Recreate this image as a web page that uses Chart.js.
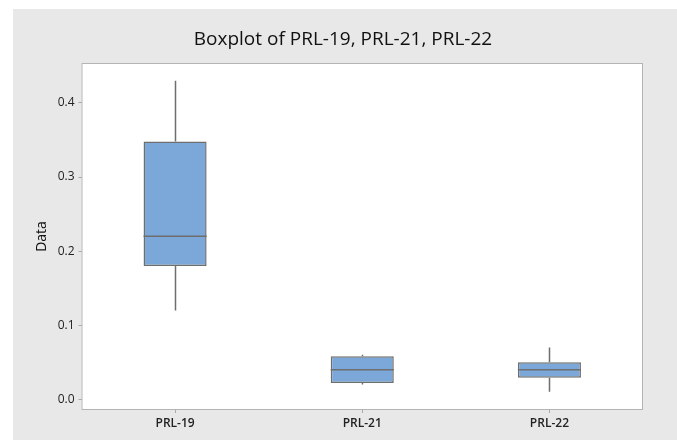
<!DOCTYPE html>
<html>
<head>
<meta charset="utf-8">
<script src="https://cdn.jsdelivr.net/npm/chart.js@4.4.1/dist/chart.umd.min.js"></script>
<style>
  html, body { margin: 0; padding: 0; background: #ffffff; }
  #wrap { width: 677px; height: 442px; }
</style>
</head>
<body>
<div id="wrap"><canvas id="box"></canvas></div>
<script>
const categories = ['PRL-19', 'PRL-21', 'PRL-22'];
const mins    = [0.12, 0.02, 0.01];
const q1s     = [0.18, 0.022, 0.029];
const medians = [0.22, 0.04, 0.04];
const q3s     = [0.348, 0.058, 0.05];
const maxs    = [0.43, 0.06, 0.07];
const yTicks  = [0, 0.1, 0.2, 0.3, 0.4];

const boxFill = '#7ba7d9';
const boxLine = '#6e6e6e';

// grey panel + white plot area with frame
const backdrop = {
  id: 'backdrop',
  beforeDraw(chart) {
    const { ctx, chartArea: a } = chart;
    ctx.save();
    ctx.fillStyle = '#e8e8e8';
    ctx.fillRect(13, 9, chart.width - 13, 431);
    ctx.fillStyle = '#ffffff';
    ctx.fillRect(a.left, a.top, a.right - a.left, a.bottom - a.top);
    ctx.restore();
  },
  afterDraw(chart) {
    const { ctx, chartArea: a } = chart;
    ctx.save();
    ctx.strokeStyle = '#b4b4b4';
    ctx.lineWidth = 1;
    ctx.strokeRect(a.left + 0.5, a.top + 0.5, a.right - a.left - 1, a.bottom - a.top - 1);
    ctx.restore();
  }
};

// whiskers and median lines, placed with the chart's own scales
const boxParts = {
  id: 'boxParts',
  afterDatasetsDraw(chart) {
    const { ctx } = chart;
    const y = chart.scales.y;
    const bars = chart.getDatasetMeta(0).data;
    ctx.save();
    ctx.strokeStyle = boxLine;
    ctx.lineWidth = 1.5;
    bars.forEach((bar, i) => {
      const x = Math.round(bar.x) + 0.5;
      const half = bar.width / 2;
      ctx.beginPath();
      ctx.moveTo(x, y.getPixelForValue(maxs[i]));
      ctx.lineTo(x, y.getPixelForValue(q3s[i]));
      ctx.moveTo(x, y.getPixelForValue(q1s[i]));
      ctx.lineTo(x, y.getPixelForValue(mins[i]));
      const my = y.getPixelForValue(medians[i]);
      ctx.moveTo(bar.x - half, my);
      ctx.lineTo(bar.x + half, my);
      ctx.stroke();
    });
    ctx.restore();
  }
};

new Chart(document.getElementById('box'), {
  type: 'bar',
  data: {
    labels: categories,
    datasets: [{
      label: 'Data',
      data: q1s.map((q, i) => [q, q3s[i]]),
      backgroundColor: boxFill,
      borderColor: boxLine,
      borderWidth: 1.5,
      borderSkipped: false,
      barPercentage: 0.337,
      categoryPercentage: 1
    }]
  },
  options: {
    responsive: true,
    maintainAspectRatio: false,
    animation: false,
    layout: { padding: { left: 43, right: 34, top: 0, bottom: 0 } },
    scales: {
      x: {
        afterFit(scale) { scale.height = 32; },
        grid: { offset: false, drawOnChartArea: false, drawTicks: true, tickLength: 3, color: '#aaaaaa' },
        border: { display: false },
        ticks: {
          padding: 3,
          color: '#222222',
          font: { family: 'Open Sans', size: 12, weight: '600' }
        }
      },
      y: {
        min: -0.0145,
        max: 0.454,
        afterFit(scale) { scale.width = 38.5; },
        afterBuildTicks(scale) { scale.ticks = yTicks.map(v => ({ value: v })); },
        grid: { drawOnChartArea: false, drawTicks: true, tickLength: 3, color: '#aaaaaa' },
        border: { display: false },
        ticks: {
          padding: 4,
          color: '#222222',
          font: { family: 'Open Sans', size: 12 },
          callback: v => Number(v).toFixed(1)
        },
        title: {
          display: true,
          text: 'Data',
          color: '#111111',
          padding: { top: -9, bottom: 0 },
          font: { family: 'Open Sans', size: 14 }
        }
      }
    },
    plugins: {
      legend: { display: false },
      tooltip: { enabled: false },
      title: {
        display: true,
        text: 'Boxplot of PRL-19, PRL-21, PRL-22',
        color: '#111111',
        padding: { top: 28, bottom: 12.2 },
        font: { family: 'Open Sans', size: 19, weight: 'normal', lineHeight: 1.2 }
      }
    }
  },
  plugins: [backdrop, boxParts]
});
</script>
</body>
</html>
